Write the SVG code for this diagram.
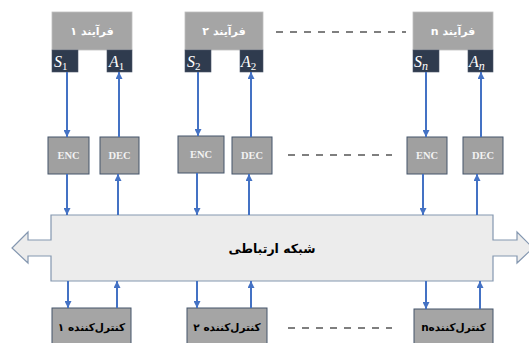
<svg xmlns="http://www.w3.org/2000/svg" width="529" height="343" viewBox="0 0 529 343">
<style>
.proc{fill:#a5a5a5;stroke:#bfbfbf;stroke-width:0.8}
.port{fill:#2f3b4e;stroke:#4a5568;stroke-width:0.6}
.codec{fill:#a0a0a0;stroke:#44546a;stroke-width:1}
.ctrl{fill:#a5a5a5;stroke:#44546a;stroke-width:1}
.net{fill:#ececec;stroke:#8497b0;stroke-width:1.2}
.ptitle{font-family:"DejaVu Sans",sans-serif;font-weight:bold;font-size:11px;fill:#ffffff;text-anchor:middle}
.ctitle{font-family:"DejaVu Sans",sans-serif;font-weight:bold;font-size:10.5px;fill:#000000;text-anchor:middle}
.ntitle{font-family:"DejaVu Sans",sans-serif;font-weight:bold;font-size:12.5px;fill:#000000;text-anchor:middle}
.code{font-family:"Liberation Serif",serif;font-weight:bold;font-size:10.5px;fill:#f2f2f2;text-anchor:middle}
.var{font-family:"Liberation Serif",serif;font-style:italic;font-size:16px;fill:#ffffff}
.sub{font-family:"Liberation Serif",serif;font-size:11px;fill:#ffffff}
.subi{font-family:"Liberation Serif",serif;font-style:italic;font-size:12px;fill:#ffffff}
.conn line{stroke:#4472c4;stroke-width:2}
.dash{stroke:#000000;stroke-width:1.2;stroke-dasharray:7,7}
</style>
<defs>
<marker id="ah" viewBox="0 0 10 10" refX="10" refY="5" markerWidth="7" markerHeight="7" markerUnits="userSpaceOnUse" orient="auto">
<path d="M0,0 L10,5 L0,10 z" fill="#4472c4"/>
</marker>
</defs>

<g id="network">
<path class="net" d="M51,215 H493 V240 H517 V232 L533,248 L517,263 V256 H493 V281 H51 V256 H28 V263 L12,248 L28,232 V240 H51 Z"/>
<text class="ntitle" x="272" y="253" direction="rtl">شبکه ارتباطی</text>
</g>

<g id="process1">
<rect class="proc" x="52" y="12" width="80" height="38"/>
<text class="ptitle" x="92" y="35" direction="rtl">فرآیند ۱</text>
<rect class="port" x="52" y="50" width="26" height="22"/>
<text x="54" y="67"><tspan class="var">S</tspan><tspan class="sub" dy="3">1</tspan></text>
<rect class="port" x="107" y="50" width="25" height="22"/>
<text x="109" y="67"><tspan class="var">A</tspan><tspan class="sub" dy="3">1</tspan></text>
</g>
<g id="process2">
<rect class="proc" x="185" y="12" width="78" height="38"/>
<text class="ptitle" x="224" y="35" direction="rtl">فرآیند ۲</text>
<rect class="port" x="185" y="50" width="26" height="22"/>
<text x="187" y="67"><tspan class="var">S</tspan><tspan class="sub" dy="3">2</tspan></text>
<rect class="port" x="240" y="50" width="23" height="22"/>
<text x="241" y="67"><tspan class="var">A</tspan><tspan class="sub" dy="3">2</tspan></text>
</g>
<g id="processn">
<rect class="proc" x="413" y="12" width="80" height="38"/>
<text class="ptitle" x="453" y="35" direction="rtl">فرآیند n</text>
<rect class="port" x="413" y="50" width="26" height="22"/>
<text x="414" y="67"><tspan class="var">S</tspan><tspan class="subi" dy="3">n</tspan></text>
<rect class="port" x="468" y="50" width="25" height="22"/>
<text x="469" y="67"><tspan class="var">A</tspan><tspan class="subi" dy="3">n</tspan></text>
</g>

<g id="enc1"><rect class="codec" x="48" y="137" width="41" height="37"/><text class="code" x="68.5" y="159">ENC</text></g>
<g id="dec1"><rect class="codec" x="100" y="137" width="39" height="37"/><text class="code" x="119.5" y="159">DEC</text></g>
<g id="enc2"><rect class="codec" x="178" y="136" width="46" height="37"/><text class="code" x="201" y="158">ENC</text></g>
<g id="dec2"><rect class="codec" x="232" y="137" width="40" height="37"/><text class="code" x="252" y="159">DEC</text></g>
<g id="encn"><rect class="codec" x="407" y="137" width="40" height="37"/><text class="code" x="427" y="159">ENC</text></g>
<g id="decn"><rect class="codec" x="463" y="137" width="40" height="37"/><text class="code" x="483" y="159">DEC</text></g>

<g id="ctrl1"><rect class="ctrl" x="52" y="308" width="79" height="40"/><text class="ctitle" x="91.5" y="331" direction="rtl">کنترل‌کننده ۱</text></g>
<g id="ctrl2"><rect class="ctrl" x="187" y="308" width="80" height="40"/><text class="ctitle" x="227" y="331" direction="rtl">کنترل‌کننده ۲</text></g>
<g id="ctrln"><rect class="ctrl" x="414" y="309" width="79" height="40"/><text class="ctitle" x="453.5" y="331" direction="rtl">کنترل‌کنندهn</text></g>

<g id="connectors" class="conn">
<line x1="67" y1="72" x2="67" y2="137" marker-end="url(#ah)"/>
<line x1="119" y1="137" x2="119" y2="72" marker-end="url(#ah)"/>
<line x1="198" y1="72" x2="198" y2="136" marker-end="url(#ah)"/>
<line x1="251" y1="137" x2="251" y2="72" marker-end="url(#ah)"/>
<line x1="426" y1="72" x2="426" y2="137" marker-end="url(#ah)"/>
<line x1="481" y1="137" x2="481" y2="72" marker-end="url(#ah)"/>
<line x1="67" y1="174" x2="67" y2="215" marker-end="url(#ah)"/>
<line x1="118" y1="215" x2="118" y2="174" marker-end="url(#ah)"/>
<line x1="197" y1="173" x2="197" y2="215" marker-end="url(#ah)"/>
<line x1="249" y1="215" x2="249" y2="174" marker-end="url(#ah)"/>
<line x1="423" y1="174" x2="423" y2="215" marker-end="url(#ah)"/>
<line x1="477" y1="215" x2="477" y2="174" marker-end="url(#ah)"/>
<line x1="68" y1="281" x2="68" y2="308" marker-end="url(#ah)"/>
<line x1="117" y1="308" x2="117" y2="281" marker-end="url(#ah)"/>
<line x1="197" y1="281" x2="197" y2="308" marker-end="url(#ah)"/>
<line x1="251" y1="308" x2="251" y2="281" marker-end="url(#ah)"/>
<line x1="426" y1="281" x2="426" y2="309" marker-end="url(#ah)"/>
<line x1="480" y1="309" x2="480" y2="281" marker-end="url(#ah)"/>
</g>
<g id="ellipses">
<line class="dash" x1="276" y1="32" x2="406" y2="32"/>
<line class="dash" x1="288" y1="155" x2="392" y2="155"/>
<line class="dash" x1="288" y1="328" x2="392" y2="328"/>
</g>
</svg>
